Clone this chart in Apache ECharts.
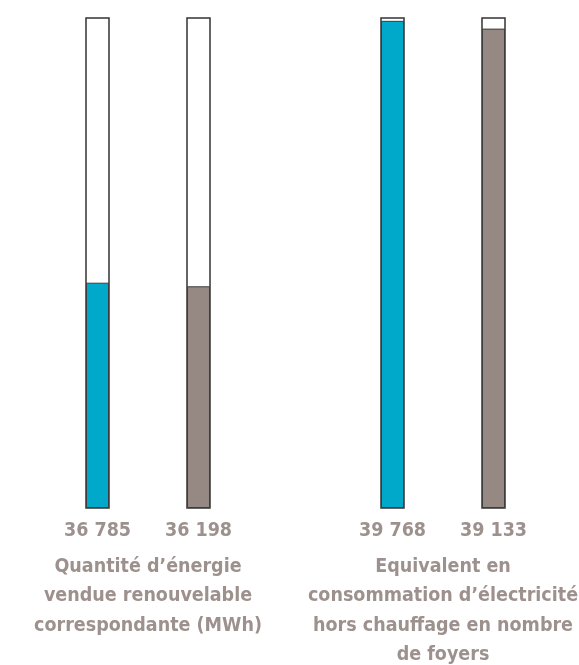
<!DOCTYPE html>
<html>
<head>
<meta charset="utf-8">
<script src="https://cdn.jsdelivr.net/npm/echarts@6/dist/echarts.min.js"></script>
<style>
  html, body { margin: 0; padding: 0; background: #fff; }
  #main { width: 579px; height: 665px; }
</style>
</head>
<body>
<div id="main"></div>
<script>
// valeurs
const energyLabels = ['36 785', '36 198'];
const energyValues = [36785, 36198];
const homesLabels = ['39 768', '39 133'];
const homesValues = [39768, 39133];
const groupNames = [
    'Quantité d’énergie\nvendue renouvelable\ncorrespondante (MWh)',
    'Equivalent en\nconsommation d’électricité\nhors chauffage en nombre\nde foyers'
];
const barColors = ['#00a9c9', '#968883'];

const font = '"Liberation Sans Narrow", "DejaVu Sans Condensed", sans-serif';
const textColor = '#9d918d';

function xAxisFor(idx, labels, name) {
    return {
        type: 'category',
        gridIndex: idx,
        data: labels,
        axisLine: { show: false },
        axisTick: { show: false },
        axisLabel: {
            margin: 13,
            color: textColor,
            fontFamily: font,
            fontWeight: 'bold',
            fontSize: 19.5
        },
        name: name,
        nameLocation: 'middle',
        nameGap: 44,
        nameTextStyle: {
            color: textColor,
            fontFamily: font,
            fontWeight: 'bold',
            fontSize: 19.5,
            lineHeight: 29.5,
            verticalAlign: 'top'
        }
    };
}

function yAxisFor(idx, max) {
    return {
        type: 'value',
        gridIndex: idx,
        min: 0,
        max: max,
        show: false
    };
}

function barSeries(idx, values) {
    return {
        type: 'bar',
        xAxisIndex: idx,
        yAxisIndex: idx,
        barWidth: 23,
        data: values.map((v, i) => ({
            value: v,
            itemStyle: { color: barColors[i] }
        })),
        itemStyle: { borderColor: '#3d3d3d', borderWidth: 1 },
        showBackground: true,
        backgroundStyle: {
            color: '#fff',
            borderColor: '#333',
            borderWidth: 1.5
        },
        animation: false
    };
}

const chart = echarts.init(document.getElementById('main'));
chart.setOption({
    backgroundColor: '#fff',
    animation: false,
    grid: [
        { left: 47, width: 202, top: 18, bottom: 157, outerBoundsMode: 'none' },
        { left: 342, width: 202, top: 18, bottom: 157, outerBoundsMode: 'none' }
    ],
    xAxis: [
        xAxisFor(0, energyLabels, groupNames[0]),
        xAxisFor(1, homesLabels, groupNames[1])
    ],
    yAxis: [
        yAxisFor(0, 80000),
        yAxisFor(1, 40000)
    ],
    series: [
        barSeries(0, energyValues),
        barSeries(1, homesValues)
    ]
});
</script>
</body>
</html>
